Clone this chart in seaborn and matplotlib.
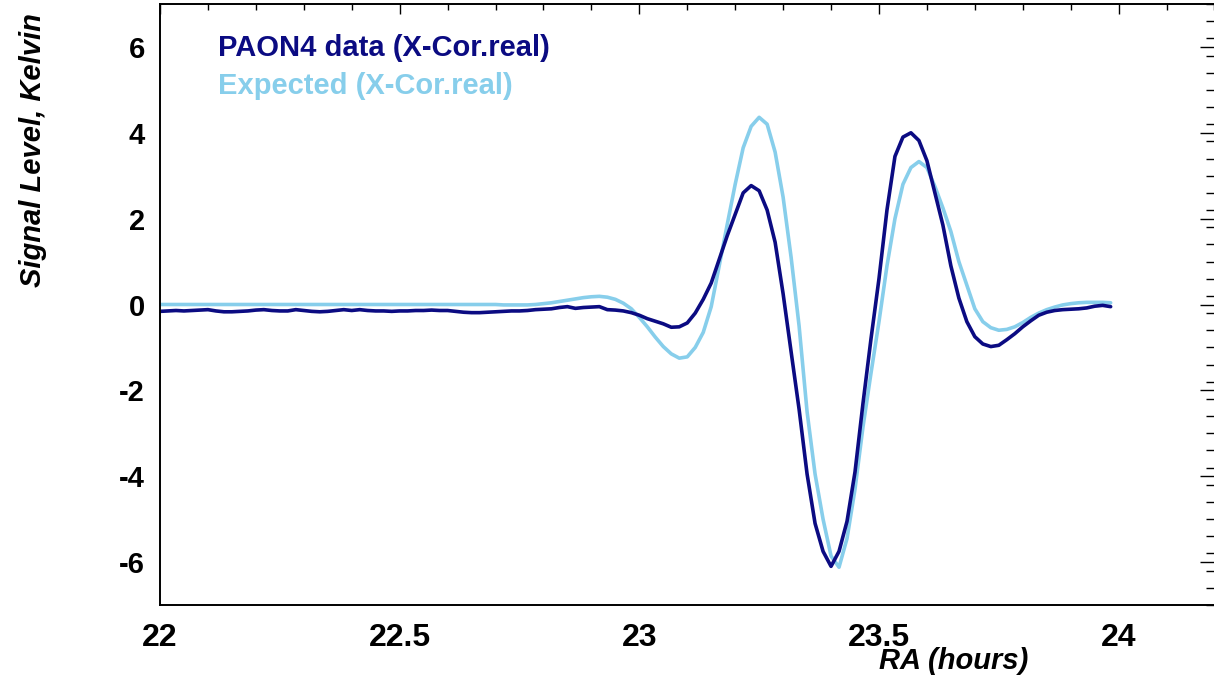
import numpy as np
import pandas as pd
import matplotlib
matplotlib.use("Agg")
import matplotlib.pyplot as plt
import seaborn as sns

# Right ascension grid: one sample per minute of RA, 22h00 to 23h59
ra_start = 22.0
ra_step_minutes = 1
n_samples = 120
ra_hours = ra_start + np.arange(n_samples) * ra_step_minutes / 60.0

# Measured cross-correlation, real part (Kelvin)
paon4_data = [
    -0.16, -0.15, -0.14, -0.15, -0.14, -0.13, -0.12, -0.15, -0.17, -0.17,
    -0.16, -0.15, -0.13, -0.12, -0.14, -0.15, -0.15, -0.12, -0.14, -0.16,
    -0.17, -0.16, -0.14, -0.12, -0.14, -0.12, -0.14, -0.15, -0.15, -0.16,
    -0.15, -0.15, -0.14, -0.14, -0.13, -0.14, -0.14, -0.16, -0.18, -0.19,
    -0.19, -0.18, -0.17, -0.16, -0.15, -0.15, -0.14, -0.12, -0.11, -0.10,
    -0.07, -0.05, -0.09, -0.07, -0.06, -0.05, -0.12, -0.13, -0.15, -0.19,
    -0.25, -0.33, -0.39, -0.45, -0.53, -0.52, -0.43, -0.20, 0.12, 0.50,
    1.05, 1.60, 2.10, 2.60, 2.77, 2.65, 2.20, 1.45, 0.25, -1.10,
    -2.44, -3.95, -5.10, -5.75, -6.10, -5.75, -5.05, -3.90, -2.30, -0.80,
    0.60, 2.20, 3.45, 3.90, 4.00, 3.82, 3.35, 2.60, 1.85, 0.90,
    0.15, -0.40, -0.75, -0.92, -0.98, -0.95, -0.82, -0.68, -0.52, -0.38,
    -0.25, -0.18, -0.14, -0.12, -0.11, -0.10, -0.08, -0.04, -0.02, -0.05,
]

# Expected cross-correlation, real part (Kelvin)
expected = [
    0.00, 0.00, 0.00, 0.00, 0.00, 0.00, 0.00, 0.00, 0.00, 0.00,
    0.00, 0.00, 0.00, 0.00, 0.00, 0.00, 0.00, 0.00, 0.00, 0.00,
    0.00, 0.00, 0.00, 0.00, 0.00, 0.00, 0.00, 0.00, 0.00, 0.00,
    0.00, 0.00, 0.00, 0.00, 0.00, 0.00, 0.00, 0.00, 0.00, 0.00,
    0.00, 0.00, 0.00, -0.01, -0.01, -0.01, -0.01, 0.00, 0.02, 0.04,
    0.07, 0.10, 0.13, 0.16, 0.18, 0.19, 0.17, 0.12, 0.03, -0.10,
    -0.30, -0.52, -0.76, -0.98, -1.15, -1.25, -1.22, -1.00, -0.65, -0.05,
    0.90, 1.86, 2.80, 3.65, 4.15, 4.36, 4.20, 3.55, 2.50, 1.10,
    -0.50, -2.50, -3.95, -5.00, -5.86, -6.12, -5.45, -4.30, -2.85, -1.60,
    -0.40, 0.90, 2.00, 2.80, 3.19, 3.33, 3.19, 2.75, 2.25, 1.70,
    1.00, 0.45, -0.10, -0.40, -0.54, -0.60, -0.58, -0.52, -0.42, -0.30,
    -0.20, -0.12, -0.06, -0.01, 0.02, 0.04, 0.05, 0.05, 0.05, 0.04,
]

series_labels = ["PAON4 data (X-Cor.real)", "Expected (X-Cor.real)"]
series_colors = ["#0b0b82", "#87ceeb"]

x_ticks = [22, 22.5, 23, 23.5, 24]
x_tick_labels = ["22", "22.5", "23", "23.5", "24"]
y_ticks = [-6, -4, -2, 0, 2, 4, 6]
y_tick_labels = ["-6", "-4", "-2", "0", "2", "4", "6"]

df = pd.DataFrame({
    "RA": np.concatenate([ra_hours, ra_hours]),
    "signal": np.concatenate([paon4_data, expected]),
    "series": [series_labels[0]] * n_samples + [series_labels[1]] * n_samples,
})

sns.set_theme(style="white")
plt.rcParams["font.family"] = ["Liberation Sans", "DejaVu Sans"]
plt.rcParams["text.color"] = "black"
plt.rcParams["xtick.color"] = "black"
plt.rcParams["ytick.color"] = "black"
plt.rcParams["axes.labelcolor"] = "black"

fig = plt.figure(figsize=(12.14, 6.81), dpi=100)
ax = fig.add_axes([160 / 1214, 1 - 605 / 681, (1214.5 - 160) / 1214, (605 - 4) / 681])

sns.lineplot(
    data=df, x="RA", y="signal", hue="series",
    palette=dict(zip(series_labels, series_colors)),
    hue_order=series_labels[::-1],
    linewidth=2.6, legend=False, ax=ax, sort=False,
)

ax.set_xlim(22, 24.2)
ax.set_ylim(-7, 7)
ax.set_xticks(x_ticks)
ax.set_xticklabels(x_tick_labels)
ax.set_yticks(y_ticks)
ax.set_yticklabels(y_tick_labels)
ax.set_xticks(np.arange(22, 24.21, 0.1), minor=True)
ax.set_yticks(np.arange(-7, 7.01, 0.4), minor=True)

for side in ["left", "bottom", "top"]:
    ax.spines[side].set_linewidth(1.4)
    ax.spines[side].set_color("black")
ax.spines["right"].set_visible(False)

ax.tick_params(axis="both", which="both", direction="in", color="black",
               labelcolor="black", top=True, right=True, width=1.0)
ax.tick_params(axis="x", which="major", length=7.5, pad=13)
ax.tick_params(axis="x", which="minor", length=4.3)
ax.tick_params(axis="y", which="major", length=10.8, pad=11)
ax.tick_params(axis="y", which="minor", length=6.5)
for lab in ax.get_xticklabels():
    lab.set_fontsize(23)
    lab.set_fontweight("bold")
for lab in ax.get_yticklabels():
    lab.set_fontsize(21)
    lab.set_fontweight("bold")

ax.set_xlabel("")
ax.set_ylabel("")
fig.text(954 / 1214, 1 - 661 / 681, "RA (hours)", fontsize=21, fontweight="bold",
         fontstyle="italic", ha="center", va="center", color="black")
fig.text(33 / 1214, 1 - 150 / 681, "Signal Level, Kelvin", fontsize=21,
         fontweight="bold", fontstyle="italic", rotation=90,
         ha="center", va="center", color="black")

# Text-only legend in the series colours
for k, (lab, col) in enumerate(zip(series_labels, series_colors)):
    ax.text(0.0548, 0.926 - k * 0.063, lab, transform=ax.transAxes,
            color=col, fontsize=21, fontweight="bold", ha="left", va="center")

ax.grid(False)
fig.savefig("out.png", dpi=100, facecolor="white")
